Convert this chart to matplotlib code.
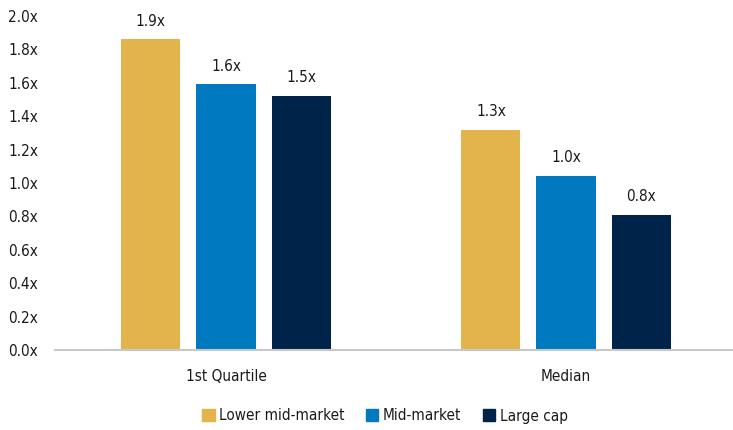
import numpy as np
import matplotlib as mpl
mpl.use('Agg')
import matplotlib.pyplot as plt
from matplotlib.patches import Patch

plt.rcParams['font.family'] = ['DejaVu Sans']
plt.rcParams['font.stretch'] = 'condensed'

categories = ['1st Quartile', 'Median']
series = ['Lower mid-market', 'Mid-market', 'Large cap']
values = {
    'Lower mid-market': [1.86, 1.32],
    'Mid-market': [1.59, 1.04],
    'Large cap': [1.52, 0.81],
}
labels = {
    'Lower mid-market': ['1.9x', '1.3x'],
    'Mid-market': ['1.6x', '1.0x'],
    'Large cap': ['1.5x', '0.8x'],
}
colors = ['#E3B44C', '#0079C1', '#00234A']
yticks = np.arange(0, 2.01, 0.2)

fig = plt.figure(figsize=(7.33, 4.30), dpi=100)
ax = fig.add_axes([55 / 733, 80 / 430, 678 / 733, 334 / 430])

# grouped bars
x = np.arange(len(categories))
width = 0.174
step = 0.221
for i, (name, c) in enumerate(zip(series, colors)):
    pos = x + (i - 1) * step
    bars = ax.bar(pos, values[name], width, color=c)
    for b, lab in zip(bars, labels[name]):
        ax.text(b.get_x() + b.get_width() / 2, b.get_height() + 0.065, lab,
                ha='center', va='bottom', fontsize=11, color='#1a1a1a', clip_on=False)

ax.set_xlim(-0.503, 1.491)
ax.set_ylim(0, 2.0)
ax.set_yticks(yticks)
ax.set_yticklabels([f'{t:.1f}x' for t in yticks], fontsize=11, color='#1a1a1a')
ax.set_xticks(x)
ax.set_xticklabels(categories, fontsize=11, color='#1a1a1a')
ax.tick_params(axis='both', length=0)
ax.tick_params(axis='y', pad=12)
ax.tick_params(axis='x', pad=14)
for s in ['top', 'right', 'left']:
    ax.spines[s].set_visible(False)
ax.spines['bottom'].set_color('#C8C8C8')
ax.spines['bottom'].set_linewidth(1.5)

handles = [Patch(color=c, label=n) for n, c in zip(series, colors)]
leg = fig.legend(handles=handles, loc='center', bbox_to_anchor=(385 / 733, 1 - 416 / 430),
                 ncol=3, frameon=False, fontsize=11, handlelength=0.8, handleheight=0.8,
                 handletextpad=0.3, columnspacing=1.4)
for t in leg.get_texts():
    t.set_color('#1a1a1a')

fig.savefig('out.png', dpi=100)
